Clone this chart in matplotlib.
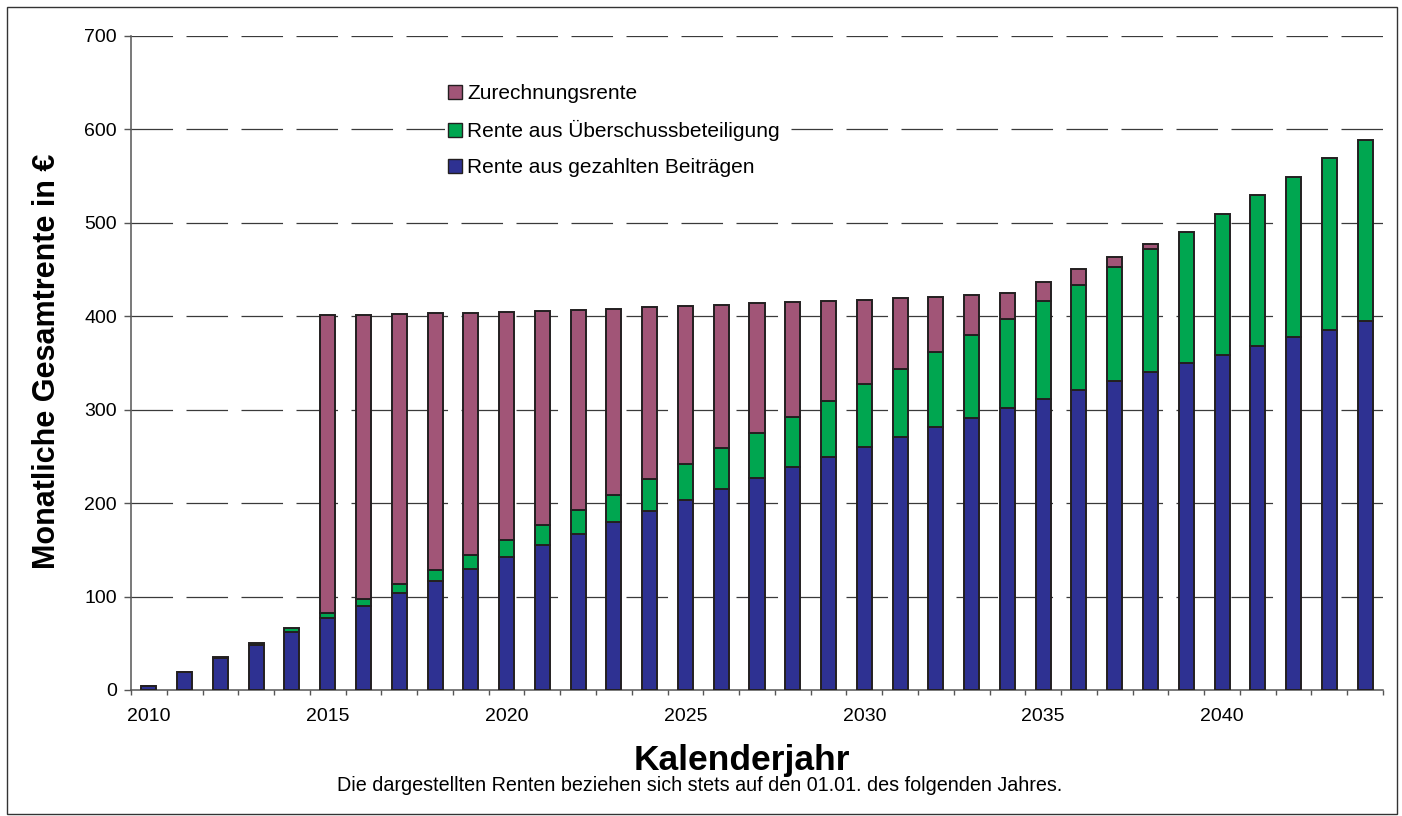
import matplotlib
matplotlib.use("Agg")
import matplotlib.pyplot as plt
from matplotlib.patches import Patch, Rectangle
import numpy as np

plt.rcParams['font.family'] = ['Liberation Sans', 'DejaVu Sans']

years = list(range(2010, 2045))
beitraege = [4, 19.5, 34.5, 48, 62.5, 77, 90, 103.5, 117, 129.5, 142.5, 155, 167.5, 179.5,
             191.5, 203.5, 215, 226.5, 238.5, 249.5, 260.5, 270.5, 281, 291.5, 301.5, 311.5,
             321, 331, 340.5, 350, 359, 368.5, 377.5, 385.5, 394.5]
ueberschuss = [0.6, 0.3, 0.5, 2.5, 3.5, 5, 7, 9.5, 11.5, 15, 18, 21.5, 25, 29, 34, 38.5,
               43.5, 49, 54, 60, 66.5, 73.5, 81, 88.5, 95.5, 104.5, 113, 122, 131, 140,
               150.5, 161, 171.5, 183.5, 194.5]
zurechnung = [0, 0, 0, 0, 0, 319, 304.5, 289, 274.5, 259, 244, 229.5, 214.5, 199.5, 184,
              169, 154, 138.5, 122.5, 107, 90.5, 75.5, 59, 43, 27.5, 21, 16.5, 10.5, 5.5,
              0, 0, 0, 0, 0, 0]
labels = ["Rente aus gezahlten Beiträgen", "Rente aus Überschussbeteiligung", "Zurechnungsrente"]
colors = ["#2E3192", "#00A650", "#A15577"]
year_labels = [2010, 2015, 2020, 2025, 2030, 2035, 2040]
y_ticks = [0, 100, 200, 300, 400, 500, 600, 700]

W, H = 1402, 816
fig = plt.figure(figsize=(W / 100, H / 100), dpi=100)
ax = fig.add_axes([131 / W, 1 - 690 / H, (1383 - 131) / W, (690 - 36) / H])

x = np.array(years, dtype=float)
b = np.array(beitraege)
u = np.array(ueberschuss)
z = np.array(zurechnung)
edge = "#231F20"
bw = 0.42
lw = 1.4
bars = []
bars.append(ax.bar(x, b, bw, color=colors[0], edgecolor=edge, linewidth=lw, zorder=3))
bars.append(ax.bar(x, u, bw, bottom=b, color=colors[1], edgecolor=edge, linewidth=lw, zorder=3))
bars.append(ax.bar(x, z, bw, bottom=b + u, color=colors[2], edgecolor=edge, linewidth=lw, zorder=3))
for cont in bars:
    for p in cont.patches:
        if p.get_height() <= 0:
            p.set_visible(False)

ax.set_xlim(2009.5, 2044.5)
ax.set_ylim(0, 700)
ax.set_yticks(y_ticks)
ax.set_xticks(year_labels)
ax.set_xticks(np.arange(2009.5, 2045, 1.0), minor=True)

gl = 0.9
ax.yaxis.grid(True, color="#3a3a3a", linewidth=gl, linestyle=(0, (29.9 / gl, 9.7 / gl)))
ax.set_axisbelow(True)
for gline in ax.get_ygridlines()[:1]:
    gline.set_visible(False)

for s in ["top", "right"]:
    ax.spines[s].set_visible(False)
for s in ["left", "bottom"]:
    ax.spines[s].set_color("#555555")
    ax.spines[s].set_linewidth(1.1)

ax.tick_params(axis="y", which="major", direction="out", length=5, width=1, color="#555555",
               labelsize=14, pad=5)
ax.tick_params(axis="x", which="major", length=0, labelsize=14, pad=13)
ax.tick_params(axis="x", which="minor", direction="out", length=3.6, width=1, color="#555555")

fig.text(47 / W, 1 - 361 / H, "Monatliche Gesamtrente in €", fontsize=22, fontweight="bold",
         rotation=90, ha="center", va="center")

fig.text(742 / W, 1 - 770 / H, "Kalenderjahr", fontsize=25.5, fontweight="bold",
         ha="center", va="baseline")
fig.text(700 / W, 1 - 791 / H,
         "Die dargestellten Renten beziehen sich stets auf den 01.01. des folgenden Jahres.",
         fontsize=14.2, ha="center", va="baseline")

handles = [Patch(facecolor=colors[i], edgecolor=edge, linewidth=1.0) for i in (2, 1, 0)]
leg = ax.legend(handles, [labels[i] for i in (2, 1, 0)], loc="upper left",
                bbox_to_anchor=(445 / W, 1 - 81 / H), bbox_transform=fig.transFigure,
                fontsize=15, frameon=True, fancybox=False, framealpha=1.0,
                facecolor="white", edgecolor="none", borderpad=0.15, borderaxespad=0,
                handlelength=0.67, handleheight=0.67, handletextpad=0.25,
                labelspacing=0.82)
leg.set_zorder(5)

fig.add_artist(Rectangle((7 / W, 1 - 814 / H), (1397 - 7) / W, (814 - 7) / H,
                         transform=fig.transFigure, fill=False, edgecolor="#333333",
                         linewidth=1.0))

fig.savefig("out.png", dpi=100)
